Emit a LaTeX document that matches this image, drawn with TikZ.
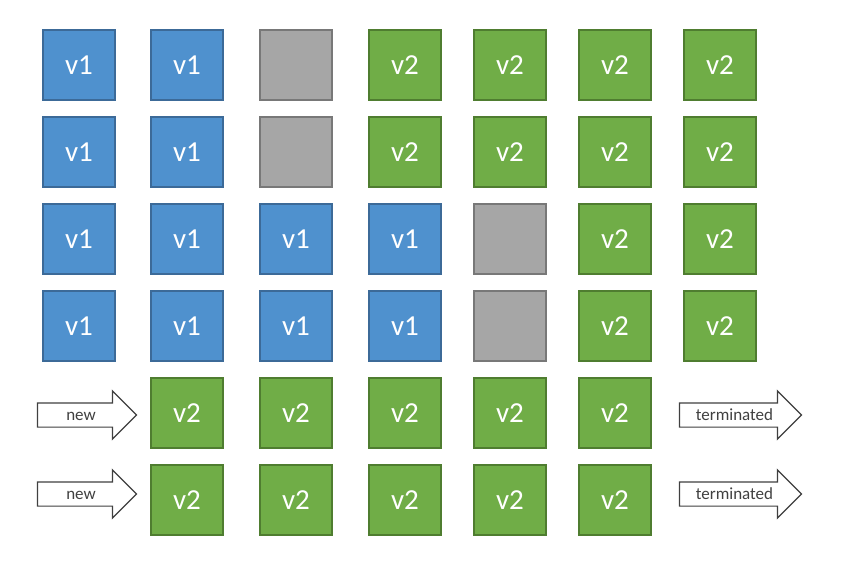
\documentclass[tikz,border=0pt]{standalone}
\usepackage{fontspec}
\setmainfont{Carlito}
\usetikzlibrary{shapes.arrows}

\definecolor{blaufill}{HTML}{4F91CE}
\definecolor{blaurand}{HTML}{3C6A98}
\definecolor{gruenfill}{HTML}{70AD47}
\definecolor{gruenrand}{HTML}{4F7D30}
\definecolor{graufill}{HTML}{A6A6A6}
\definecolor{graurand}{HTML}{787878}
\definecolor{pfeilrand}{HTML}{404040}

\tikzset{
  kasten/.style={draw, line width=2pt, minimum width=72pt, minimum height=70pt,
    inner sep=0pt, text=white, font=\fontsize{29}{31}\selectfont},
  alt/.style={kasten, fill=blaufill, draw=blaurand, node contents={v1}},
  neu/.style={kasten, fill=gruenfill, draw=gruenrand, node contents={v2}},
  leer/.style={kasten, fill=graufill, draw=graurand, node contents={}},
  pfeil/.style={single arrow, draw=pfeilrand, fill=white, line width=1.2pt,
    single arrow head extend=12pt, inner xsep=2pt, inner ysep=5pt,
    text height=11.5pt, text depth=1.5pt, text=pfeilrand,
    font=\fontsize{17}{19}\selectfont}
}

\begin{document}
\begin{tikzpicture}[x=1pt,y=-1pt]
  \useasboundingbox (0,0) rectangle (847,574);

  % Spalten und Zeilen
  \def\spalten{{79,187,296,405,510,615,720}}

  % Zeilen 1-4: Versionen der Pods
  \foreach \z/\y/\a/\b/\c/\d/\e/\f/\g in {
      1/65/alt/alt/leer/neu/neu/neu/neu,
      2/152/alt/alt/leer/neu/neu/neu/neu,
      3/239/alt/alt/alt/alt/leer/neu/neu,
      4/326/alt/alt/alt/alt/leer/neu/neu}{
    \foreach \s [count=\sp] in {\a,\b,\c,\d,\e,\f,\g}{
      \pgfmathsetmacro{\x}{\spalten[\sp-1]}
      \node[name=k\z-\sp, at={(\x,\y)}, \s];
    }
  }

  % Zeilen 5-6: neue Pods
  \foreach \z/\y/\yp in {5/413/415, 6/500/494}{
    \foreach \sp in {2,...,6}{
      \pgfmathsetmacro{\x}{\spalten[\sp-1]}
      \node[name=k\z-\sp, at={(\x,\y)}, neu];
    }
    \node[pfeil, minimum height=99pt] (neu\z) at (81,\yp) {new};
    \node[pfeil, minimum height=122pt] (ende\z) at (734.5,\yp) {terminated};
  }

\end{tikzpicture}
\end{document}
